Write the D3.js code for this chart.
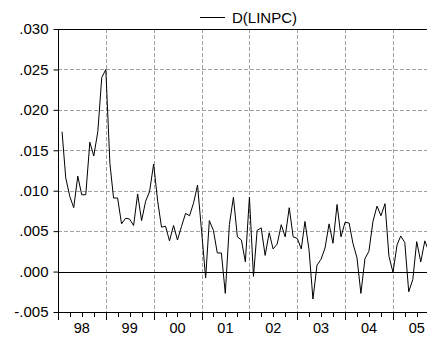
<!DOCTYPE html>
<html>
<head>
<meta charset="utf-8">
<script src="https://cdn.jsdelivr.net/npm/d3@7"></script>
<style>
  html, body { margin: 0; padding: 0; background: #fff; }
  svg { display: block; }
  text { font-family: Arial, "Liberation Sans", sans-serif; fill: #000; }
</style>
</head>
<body>
<svg id="chart" width="427" height="337"></svg>
<script>
// Monthly first difference of log CPI, D(LINPC), starting 1998M02
const seriesName = "D(LINPC)";
const firstMonth = [1998, 2]; // year, month of the first observation
const dLinpc = [
  0.0173, 0.0116, 0.0093, 0.0079, 0.0118, 0.0095, 0.0095, 0.0160, 0.0143, 0.0173, 0.0240,
  0.0250, 0.0134, 0.0091, 0.0091, 0.0059, 0.0066, 0.0065, 0.0057, 0.0096, 0.0063, 0.0087, 0.0099,
  0.0133, 0.0087, 0.0055, 0.0056, 0.0038, 0.0057, 0.0039, 0.0056, 0.0072, 0.0069, 0.0085, 0.0107,
  0.0050, -0.0008, 0.0063, 0.0051, 0.0023, 0.0023, -0.0027, 0.0058, 0.0092, 0.0043, 0.0039, 0.0012,
  0.0092, -0.0006, 0.0051, 0.0054, 0.0020, 0.0048, 0.0028, 0.0034, 0.0058, 0.0043, 0.0079, 0.0043,
  0.0041, 0.0028, 0.0062, 0.0027, -0.0034, 0.0008, 0.0015, 0.0029, 0.0059, 0.0035, 0.0083, 0.0043,
  0.0061, 0.0060, 0.0035, 0.0017, -0.0027, 0.0016, 0.0025, 0.0062, 0.0081, 0.0069, 0.0084, 0.0019,
  -0.0001, 0.0033, 0.0044, 0.0036, -0.0025, -0.0010, 0.0037, 0.0012, 0.0038, 0.0025
];
const yTicks = [-0.005, 0.000, 0.005, 0.010, 0.015, 0.020, 0.025, 0.030];
const yearLabels = ["98", "99", "00", "01", "02", "03", "04", "05"];
const firstYear = 1998;

const svg = d3.select("#chart");
const W = 427, H = 337;
const plotLeft = 58, plotTop = 29, plotBottom = 312;

// Observation dates (first day of each month)
const data = dLinpc.map((v, i) => ({
  date: new Date(Date.UTC(firstMonth[0], firstMonth[1] - 1 + i, 1)),
  value: v
}));

// Year boundaries 1998..2005 span the axis at a fixed pixels-per-year rate
const x = d3.scaleUtc()
  .domain([new Date(Date.UTC(1998, 0, 1)), new Date(Date.UTC(2005, 0, 1))])
  .range([plotLeft, 393]);
const plotRight = W + 4;

const y = d3.scaleLinear().domain([-0.005, 0.030]).range([plotBottom, plotTop]);

const fmt = v => {
  const s = d3.format(".3f")(Math.abs(v)).replace(/^0/, "");
  return (v < 0 ? "-" : "") + s;
};

// Horizontal dashed grid
svg.append("g").selectAll("line")
  .data(yTicks.filter(t => t > -0.005 && t < 0.030 && t !== 0))
  .join("line")
  .attr("x1", plotLeft).attr("x2", plotRight)
  .attr("y1", d => Math.round(y(d)) + 0.5).attr("y2", d => Math.round(y(d)) + 0.5)
  .attr("stroke", "#a0a0a0").attr("stroke-width", 1)
  .attr("stroke-dasharray", "4,2");

// Vertical dashed grid at year boundaries
const yearStarts = d3.range(firstYear + 1, firstYear + yearLabels.length)
  .map(yr => new Date(Date.UTC(yr, 0, 1)));
svg.append("g").selectAll("line")
  .data(yearStarts)
  .join("line")
  .attr("x1", d => Math.round(x(d)) + 0.5).attr("x2", d => Math.round(x(d)) + 0.5)
  .attr("y1", plotTop).attr("y2", plotBottom)
  .attr("stroke", "#a0a0a0").attr("stroke-width", 1)
  .attr("stroke-dasharray", "4,2");

// Zero line
svg.append("line")
  .attr("x1", plotLeft).attr("x2", plotRight)
  .attr("y1", Math.round(y(0)) + 0.5).attr("y2", Math.round(y(0)) + 0.5)
  .attr("stroke", "#000").attr("stroke-width", 1);

// Top frame
svg.append("line")
  .attr("x1", plotLeft).attr("x2", plotRight)
  .attr("y1", plotTop + 0.5).attr("y2", plotTop + 0.5)
  .attr("stroke", "#000").attr("stroke-width", 1);

// Series line
const clipId = "plotclip";
svg.append("clipPath").attr("id", clipId)
  .append("rect").attr("x", plotLeft).attr("y", plotTop)
  .attr("width", plotRight - plotLeft).attr("height", plotBottom - plotTop);

svg.append("path")
  .datum(data)
  .attr("clip-path", `url(#${clipId})`)
  .attr("fill", "none")
  .attr("stroke", "#000")
  .attr("stroke-width", 1)
  .attr("stroke-linejoin", "round")
  .attr("d", d3.line().x(d => x(d.date)).y(d => y(d.value)));

// Left axis
const yAxis = d3.axisLeft(y).tickValues(yTicks).tickSize(5).tickPadding(5).tickFormat(fmt);
const gy = svg.append("g").attr("transform", `translate(${plotLeft + 0.5},0)`).call(yAxis);
gy.select(".domain").attr("d", `M0,${plotTop}V${plotBottom}`).attr("stroke", "#000");
gy.selectAll(".tick line").attr("stroke", "#000");
gy.selectAll(".tick text").style("font-size", "15px").style("font-family", "Arial, 'Liberation Sans', sans-serif");

// Bottom axis: quarterly minor ticks, yearly major ticks
const quarterStarts = d3.utcMonth.every(3).range(new Date(Date.UTC(1998, 0, 1)), new Date(Date.UTC(2006, 0, 1)));
const gx = svg.append("g");
gx.append("line")
  .attr("x1", plotLeft).attr("x2", plotRight)
  .attr("y1", plotBottom + 0.5).attr("y2", plotBottom + 0.5)
  .attr("stroke", "#000");
gx.selectAll("line.tick")
  .data(quarterStarts.filter(d => x(d) <= W))
  .join("line")
  .attr("class", "tick")
  .attr("x1", d => Math.round(x(d)) + 0.5).attr("x2", d => Math.round(x(d)) + 0.5)
  .attr("y1", plotBottom)
  .attr("y2", d => plotBottom + (d.getUTCMonth() === 0 ? 8 : 5))
  .attr("stroke", "#000");

// Year labels centred on each year span
gx.selectAll("text")
  .data(yearLabels)
  .join("text")
  .attr("x", (d, i) => x(new Date(Date.UTC(firstYear + i, 6, 2))))
  .attr("y", 333)
  .attr("text-anchor", "middle")
  .style("font-size", "14.5px")
  .text(d => d);

// Legend
const lg = svg.append("g");
lg.append("line")
  .attr("x1", 200).attr("x2", 225)
  .attr("y1", 17.5).attr("y2", 17.5)
  .attr("stroke", "#000");
lg.append("text")
  .attr("x", 232).attr("y", 23)
  .style("font-size", "15px")
  .text(seriesName);
</script>
</body>
</html>
